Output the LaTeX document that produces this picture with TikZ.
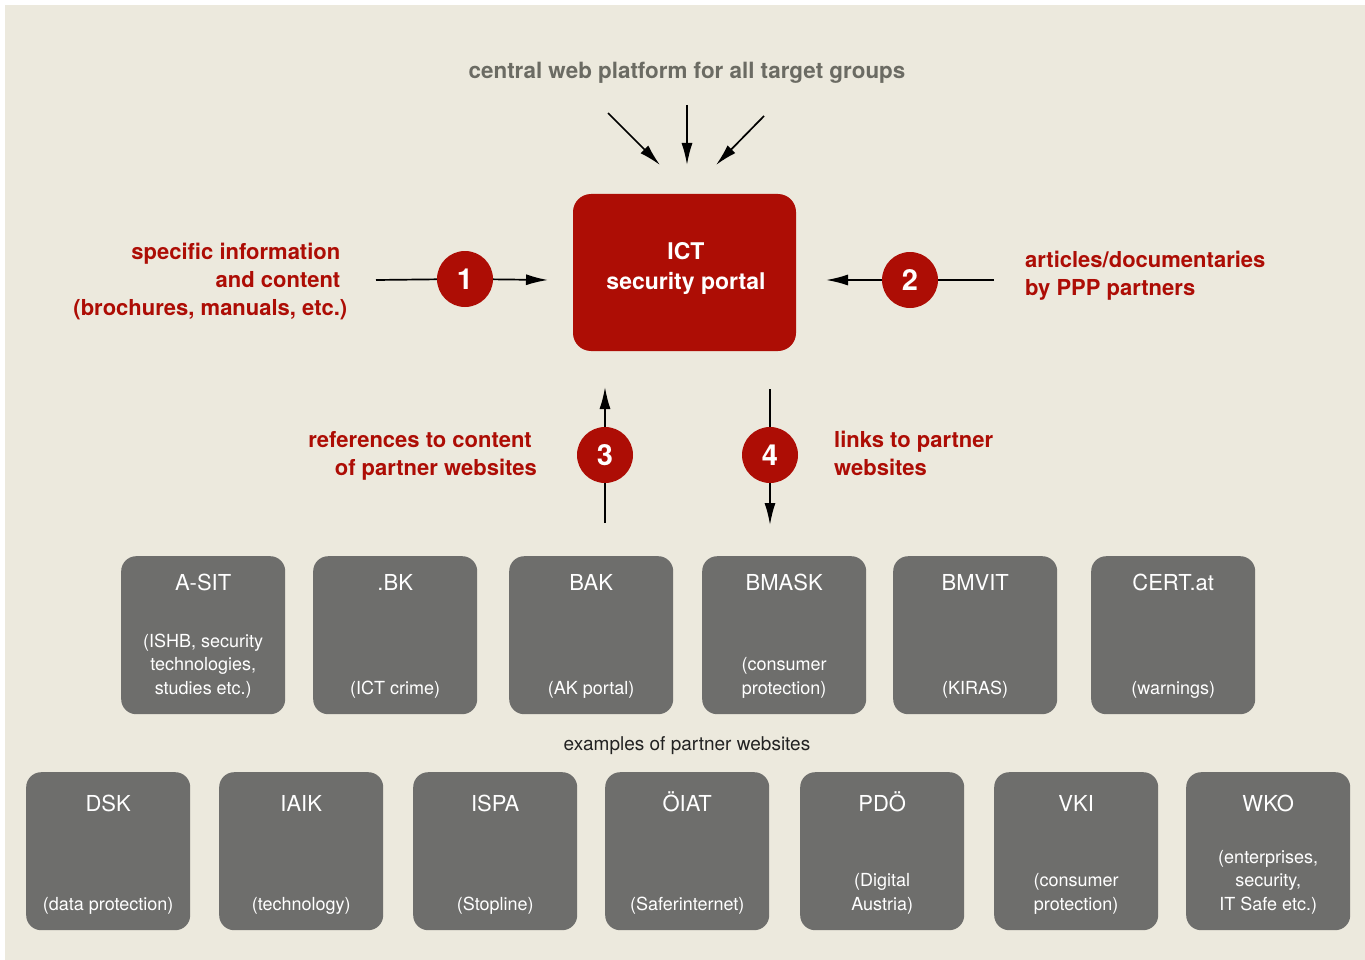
\documentclass[tikz,border=0pt]{standalone}
\usepackage{fontspec}
\setmainfont{TeX Gyre Heros}
\usetikzlibrary{arrows.meta,calc}
\definecolor{bg}{HTML}{ECE9DD}
\definecolor{pred}{HTML}{AD0D05}
\definecolor{pgray}{HTML}{6E6E6C}
\definecolor{ttl}{HTML}{6B6B63}
\definecolor{dtext}{HTML}{222222}
\newcommand\partnerbox[6]{%
  \node[gbox] (#1) at (#2,#3) {};
  \node[gtitle] (#1-t) at ($(#1.north)+(0,#6)$) {#4};
  \node[gsub] (#1-s) at ($(#1.south)+(0,-16)$) {#5};
}
\begin{document}
\begin{tikzpicture}[x=1pt,y=-1pt,
  gbox/.style={fill=pgray, rounded corners=15pt, minimum width=164pt, minimum height=158pt, anchor=north west, inner sep=0pt},
  gtitle/.style={text=white, font=\fontsize{22}{26}\selectfont, anchor=base, inner sep=0pt},
  gsub/.style={text=white, font=\fontsize{18}{23.5}\selectfont, align=center, anchor=south, inner sep=0pt},
  rtext/.style={text=pred, font=\bfseries\fontsize{22}{28}\selectfont, inner sep=0pt},
  num/.style={circle, fill=pred, minimum size=56pt, inner sep=0pt, text=white, font=\bfseries\fontsize{29}{29}\selectfont},
  arr/.style={line width=1.7pt, -{Latex[length=22pt,width=11pt]}},
  ln/.style={line width=1.7pt},
]
\useasboundingbox (0,0) rectangle (1365,960);
\fill[white] (0,0) rectangle (1365,960);
\fill[bg] (5,5) rectangle (1365,960);

% title
\node[text=ttl, font=\bfseries\fontsize{22.4}{26}\selectfont, anchor=base, inner sep=0pt] (title) at (687,79) {central web platform for all target groups};

% central portal
\node[fill=pred, rounded corners=18pt, minimum width=223pt, minimum height=157pt, inner sep=0pt] (ict) at (684.5,272.5) {};
\node[text=white, font=\bfseries\fontsize{23}{30}\selectfont, align=center, inner sep=0pt, anchor=base] (ictl) at (686,289) {ICT\\security portal};

% top arrows
\coordinate (t1s) at (608,113); \coordinate (t1e) at (660,165);
\coordinate (t2s) at (687,105); \coordinate (t2e) at (687,165);
\coordinate (t3s) at (764,116); \coordinate (t3e) at (716,165);
\draw[arr] (t1s) -- (t1e);
\draw[arr] (t2s) -- (t2e);
\draw[arr] (t3s) -- (t3e);

% 1
\node[num] (n1) at (465,279) {1};
\coordinate (a1s) at (376,280);
\coordinate (a1e) at (548,280);
\draw[ln] (a1s) -- (n1);
\draw[arr] (n1) -- (a1e);
\node[rtext, align=right, anchor=base east] (lt) at (347.5,315) {specific information\rule{7pt}{0pt}\\and content\rule{7pt}{0pt}\\(brochures, manuals, etc.)};

% 2
\node[num] (n2) at (910,280) {2};
\coordinate (a2s) at (994,280);
\coordinate (a2e) at (826,280);
\draw[ln] (a2s) -- (n2);
\draw[arr] (n2) -- (a2e);
\node[rtext, align=left, anchor=base west] (rt) at (1025,295) {articles/documentaries\\by PPP partners};

% 3
\node[num] (n3) at (605,455) {3};
\coordinate (a3s) at (605,523);
\coordinate (a3e) at (605,387);
\draw[ln] (a3s) -- (n3);
\draw[arr] (n3) -- (a3e);
\node[rtext, align=right, anchor=base east] (l3) at (537,475) {references to content\rule{5pt}{0pt}\\of partner websites};

% 4
\node[num] (n4) at (770,455) {4};
\coordinate (a4s) at (770,389);
\coordinate (a4e) at (770,525);
\draw[ln] (a4s) -- (n4);
\draw[arr] (n4) -- (a4e);
\node[rtext, align=left, anchor=base west] (l4) at (834,475) {links to partner\\websites};

% row 1
\partnerbox{asit}{121}{556}{A-SIT}{(ISHB, security\\technologies,\\studies etc.)}{34}
\partnerbox{bk}{313}{556}{.BK}{(ICT crime)}{34}
\partnerbox{bak}{509}{556}{BAK}{(AK portal)}{34}
\partnerbox{bmask}{702}{556}{BMASK}{(consumer\\protection)}{34}
\partnerbox{bmvit}{893}{556}{BMVIT}{(KIRAS)}{34}
\partnerbox{cert}{1091}{556}{CERT.at}{(warnings)}{34}

\node[text=dtext, font=\fontsize{19}{23}\selectfont, anchor=base, inner sep=0pt] (ex) at (687,750) {examples of partner websites};

% row 2
\partnerbox{dsk}{26}{772}{DSK}{(data protection)}{39}
\partnerbox{iaik}{219}{772}{IAIK}{(technology)}{39}
\partnerbox{ispa}{413}{772}{ISPA}{(Stopline)}{39}
\partnerbox{oiat}{605}{772}{ÖIAT}{(Saferinternet)}{39}
\partnerbox{pdo}{800}{772}{PDÖ}{(Digital\\Austria)}{39}
\partnerbox{vki}{994}{772}{VKI}{(consumer\\protection)}{39}
\partnerbox{wko}{1186}{772}{WKO}{(enterprises,\\security,\\IT Safe etc.)}{39}
\end{tikzpicture}
\end{document}
